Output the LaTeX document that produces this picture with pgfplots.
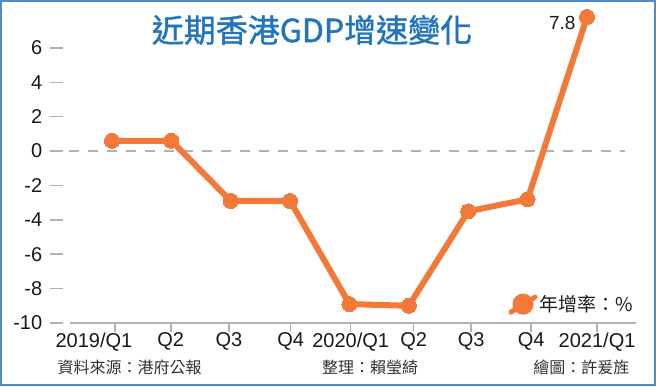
\documentclass[border=0pt]{standalone}
\usepackage{pgfplots}
\pgfplotsset{compat=1.18}
\usepackage{fontspec}
\setmainfont{Liberation Sans}
\newfontfamily\cjk{Noto Sans CJK TC}
\newfontfamily\cjktitle{Noto Sans CJK TC}[FakeBold=1.2]
\definecolor{lineorange}{RGB}{242,121,56}
\definecolor{titleblue}{RGB}{33,116,190}
\definecolor{frameblue}{RGB}{80,138,200}
\definecolor{axgray}{RGB}{178,178,178}
\definecolor{txt}{RGB}{25,25,25}
\definecolor{foot}{RGB}{50,50,50}
\begin{document}
\begin{tikzpicture}[x=1pt,y=1pt]
\fill[white] (0,0) rectangle (656,386);
\draw[frameblue, line width=2pt] (1,1) rectangle (655,385);
\node[titleblue, font=\cjktitle\fontsize{32}{36}\selectfont] at (312,356) {近期香港GDP增速變化};
\begin{axis}[at={(70pt,63pt)}, anchor=south west, scale only axis,
  width=566pt, height=309.4pt,
  xmin=-0.707, xmax=8.825, ymin=-10, ymax=8, clip=false,
  axis x line*=bottom, axis y line*=left, axis line style={-},
  x axis line style={axgray, line width=2pt},
  y axis line style={draw=none},
  tick align=outside,
  xtick={0.05,0.99,1.97,3.01,4.02,5.08,6.05,7.06,8.17},
  xticklabels={\hspace*{-42pt}2019/Q1,Q2,Q3,Q4,2020/Q1,Q2,Q3,Q4,2021/Q1},
  ytick={-10,-8,...,6},
  xtick style={axgray, line width=1.5pt, /pgfplots/major tick length=9pt},
  ytick style={axgray, line width=1.5pt, /pgfplots/major tick length=13pt, xshift=-7pt},
  ticklabel style={font=\fontsize{20}{22}\selectfont, text=txt},
  yticklabel style={xshift=-20pt},
  xticklabel style={yshift=-2pt},
  /pgf/number format/assume math mode=true,
  legend style={draw=none, fill=none, at={(1.004,0.061)}, anchor=east,
    font=\cjk\fontsize{19}{21}\selectfont, text=txt},
  legend image code/.code={\draw[lineorange, line width=5pt, line cap=round] (-2pt,-8pt) -- (22pt,7pt); \fill[lineorange] (10pt,0pt) circle (7.5pt);},
]
\addplot[axgray, line width=1.5pt, dash pattern=on 10pt off 9pt, forget plot] coordinates {(-1.044,0) (8.64,0)};
\addplot[lineorange, line width=6pt, line join=round, mark=*, mark size=7.5pt, mark options={solid, fill=lineorange, draw=lineorange, line width=0pt}]
  coordinates {(0,0.6) (1,0.6) (2,-2.9) (3,-2.9) (4,-8.9) (5,-9.0) (6,-3.5) (7,-2.8) (8,7.8)};
\addlegendentry{年增率：\%}
\node[anchor=east, font=\fontsize{19}{21}\selectfont, text=txt, xshift=-8pt, yshift=-6pt] at (axis cs:8,7.8) {7.8};
\end{axis}
\node[anchor=west, text=foot, font=\cjk\fontsize{16}{18}\selectfont] at (54,19) {資料來源：港府公報};
\node[text=foot, font=\cjk\fontsize{16}{18}\selectfont] at (370,19) {整理：賴瑩綺};
\node[anchor=east, text=foot, font=\cjk\fontsize{16}{18}\selectfont] at (633,19) {繪圖：許爰旌};
\end{tikzpicture}
\end{document}
